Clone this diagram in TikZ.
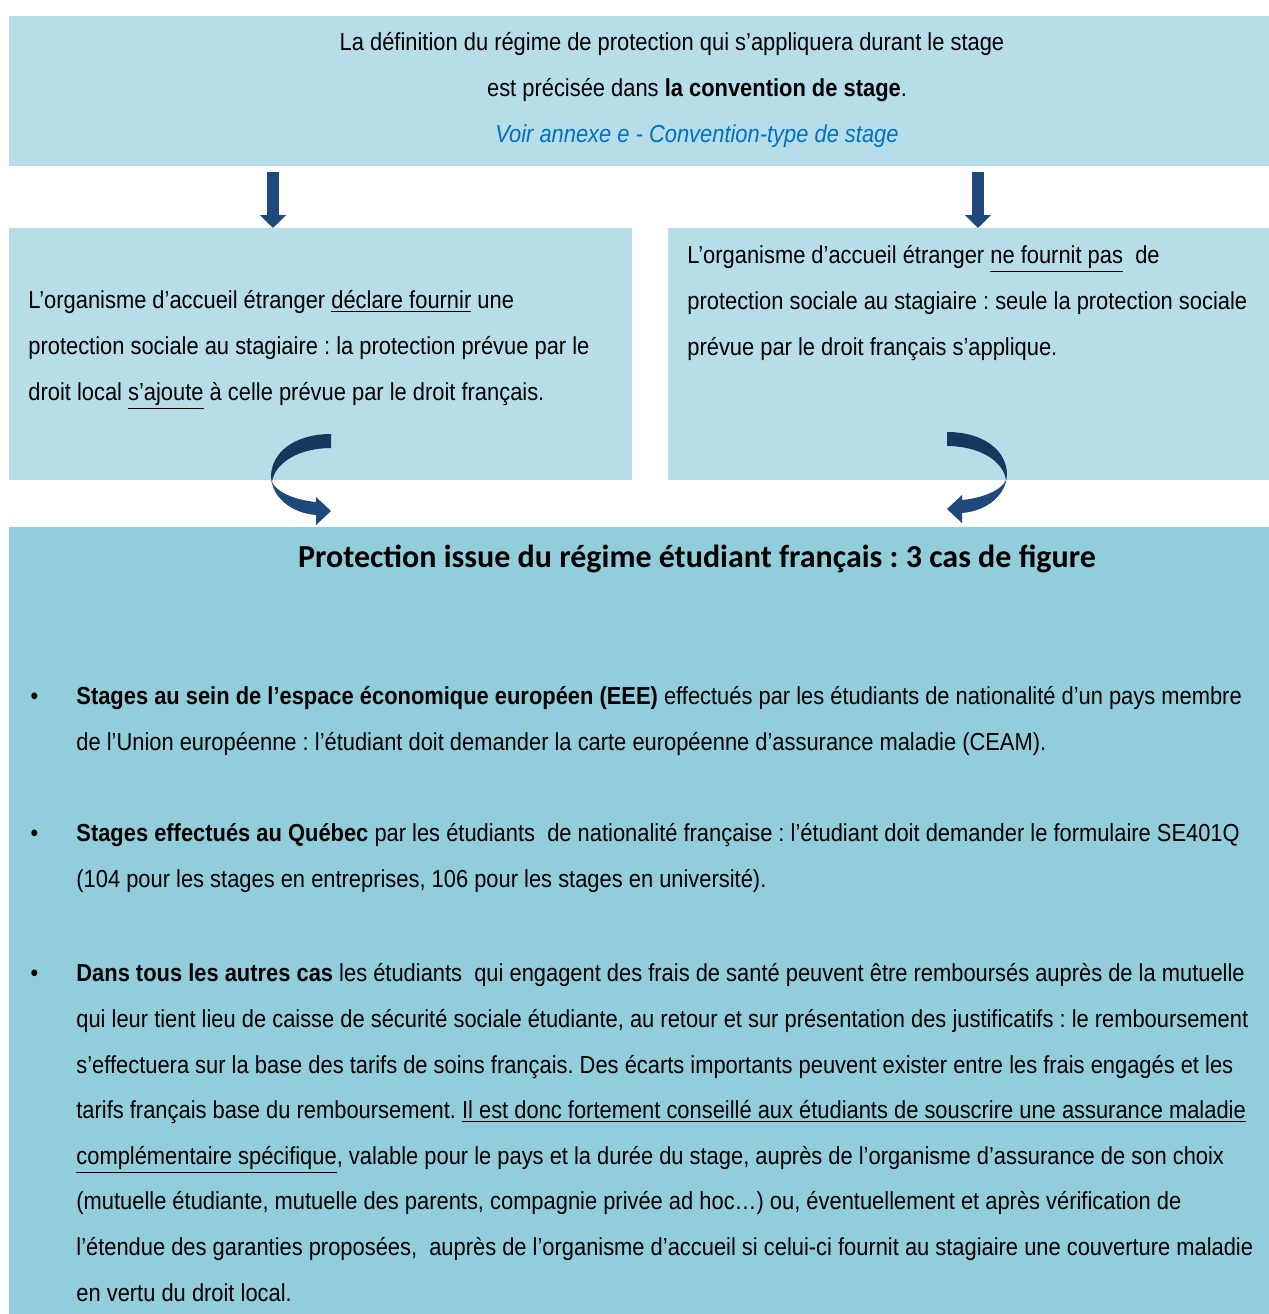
\documentclass[tikz,border=0pt]{standalone}
\usepackage{fontspec}
\usepackage{xcolor}
\usetikzlibrary{arrows.meta}
\setmainfont{Liberation Sans}[FakeStretch=0.89]
\newfontfamily\titlefont{Carlito}
\frenchspacing
\definecolor{palebox}{HTML}{B7DDE8}
\definecolor{deepbox}{HTML}{92CDDC}
\definecolor{arrowblue}{HTML}{1F497D}
\definecolor{arrowdark}{HTML}{17375E}
\definecolor{linkblue}{HTML}{0070C0}

\tikzset{
  pics/turnarrow/.style={code={
    % upper band
    \fill [arrowdark] (60,0) .. controls (24,0) and (0,18) .. (0,43)
      -- (1,48) .. controls (4,28) and (29,14) .. (60,14) -- cycle;
    % lower band with head
    \fill [arrowblue] (0,43) .. controls (1,63) and (20,79) .. (45,81)
      -- (45,91) -- (60,77) -- (45,63) -- (45,68)
      .. controls (24,66) and (5,58) .. (1,48) -- cycle;
  }}
}

\begin{document}
\begin{tikzpicture}[x=0.5pt,y=-0.5pt,
    box/.style={inner sep=0pt,anchor=north west},
    para/.style={inner sep=0pt,anchor=base west,align=left,
      font=\fontsize{12.3}{22.8}\selectfont},
    downarrow/.style={arrowblue,line width=6.35pt,
      -{Triangle[width=12.5pt,length=6.4pt]}}]
  \useasboundingbox (0,0) rectangle (1269,1314);

  % boxes
  \node [box,fill=palebox,minimum width=630pt,minimum height=75pt] (convention) at (9,16) {};
  \node [box,fill=palebox,minimum width=311.5pt,minimum height=126pt] (declare) at (9,228) {};
  \node [box,fill=palebox,minimum width=300.5pt,minimum height=126pt] (sans) at (668,228) {};
  \node [box,fill=deepbox,minimum width=630pt,minimum height=393.5pt] (regime) at (9,527) {};

  % texts (anchored on the baseline of the last line)
  \node [para,anchor=base,align=center] (conventiontext) at (697,142)
    {La définition du régime de protection qui s’appliquera durant le stage\hspace*{25pt}\\
     est précisée dans \textbf{la convention de stage}.\\
     \textcolor{linkblue}{\itshape Voir annexe e - Convention-type de stage}};
  \node [para] (declaretext) at (28,400)
    {L’organisme d’accueil étranger \underline{déclare fournir} une\\
     protection sociale au stagiaire : la protection prévue par le\\
     droit local \underline{s’ajoute} à celle prévue par le droit français.};
  \node [para] (sanstext) at (687,355)
    {L’organisme d’accueil étranger \underline{ne fournit pas}\ \ de\\
     protection sociale au stagiaire : seule la protection sociale\\
     prévue par le droit français s’applique.};
  \node [inner sep=0pt,anchor=base,font=\titlefont\fontsize{16}{19}\selectfont\bfseries] (titre) at (697,567)
    {Protection issue du régime étudiant français : 3 cas de figure};

  \node [para] (eee) at (76,750)
    {\llap{\textbullet\hspace{19pt}}\textbf{Stages au sein de l’espace économique européen (EEE)} effectués par les étudiants de nationalité d’un pays membre\\
     de l’Union européenne : l’étudiant doit demander la carte européenne d’assurance maladie (CEAM).};
  \node [para] (quebec) at (76,887)
    {\llap{\textbullet\hspace{19pt}}\textbf{Stages effectués au Québec} par les étudiants\ \ de nationalité française : l’étudiant doit demander le formulaire SE401Q\\
     (104 pour les stages en entreprises, 106 pour les stages en université).};
  \node [para] (autres) at (76,1301)
    {\llap{\textbullet\hspace{19pt}}\textbf{Dans tous les autres cas} les étudiants\ \ qui engagent des frais de santé peuvent être remboursés auprès de la mutuelle\\
     qui leur tient lieu de caisse de sécurité sociale étudiante, au retour et sur présentation des justificatifs : le remboursement\\
     s’effectuera sur la base des tarifs de soins français. Des écarts importants peuvent exister entre les frais engagés et les\\
     tarifs français base du remboursement. \underline{Il est donc fortement conseillé aux étudiants de souscrire une assurance maladie}\\
     \underline{complémentaire spécifique}, valable pour le pays et la durée du stage, auprès de l’organisme d’assurance de son choix\\
     (mutuelle étudiante, mutuelle des parents, compagnie privée ad hoc…) ou, éventuellement et après vérification de\\
     l’étendue des garanties proposées,\ \ auprès de l’organisme d’accueil si celui-ci fournit au stagiaire une couverture maladie\\
     en vertu du droit local.};

  % arrows
  \coordinate (d1) at (273,172);
  \coordinate (d2) at (978,172);
  \draw [downarrow] (d1) -- (d1 |- declare.north);
  \draw [downarrow] (d2) -- (d2 |- sans.north);
  \pic at (271,434) {turnarrow};
  \pic [xscale=-1] at (1007,432) {turnarrow};
\end{tikzpicture}
\end{document}
